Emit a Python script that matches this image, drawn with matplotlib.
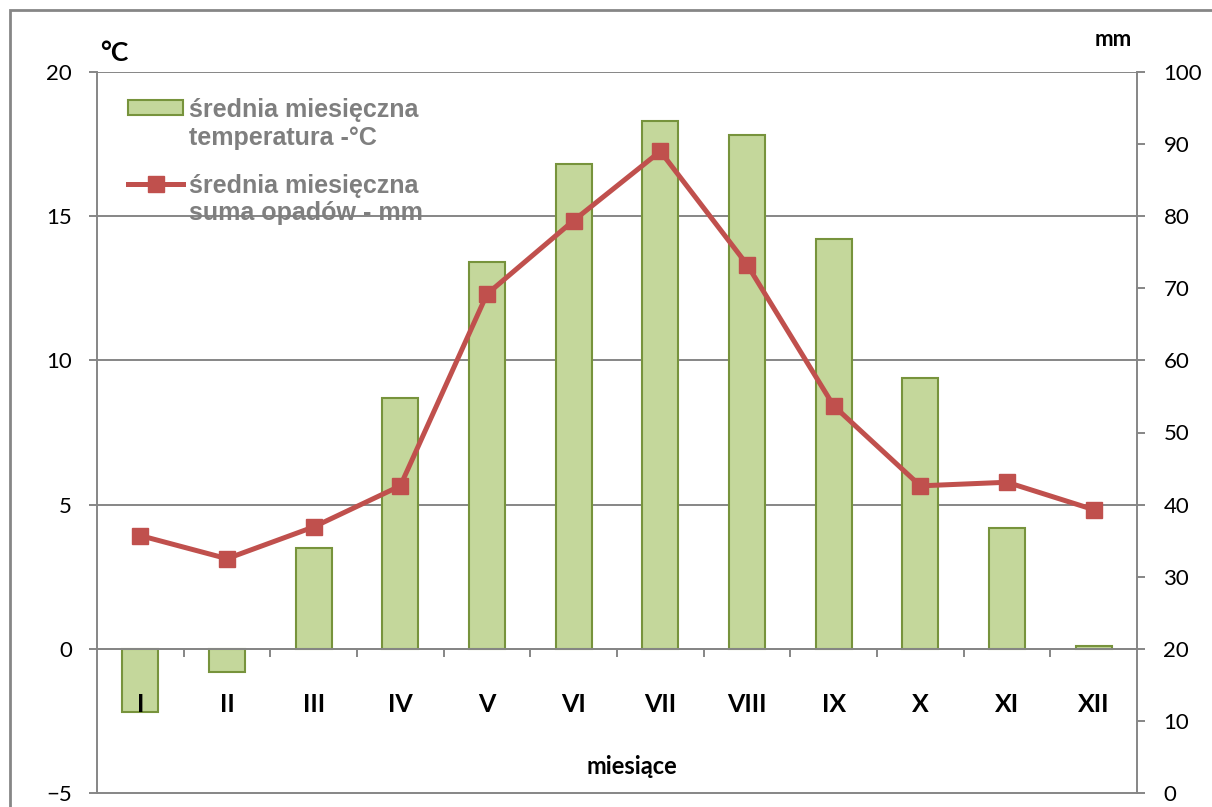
import numpy as np
import matplotlib
matplotlib.use("Agg")
from matplotlib import pyplot as plt
from matplotlib.patches import Rectangle
from matplotlib.container import BarContainer
from matplotlib.lines import Line2D
from matplotlib.legend_handler import HandlerPatch, HandlerLine2D, update_from_first_child
import matplotlib.transforms as mtransforms

months = ["I", "II", "III", "IV", "V", "VI", "VII", "VIII", "IX", "X", "XI", "XII"]
temperature = [-2.2, -0.8, 3.5, 8.7, 13.4, 16.8, 18.3, 17.8, 14.2, 9.4, 4.2, 0.1]
precipitation = [35.7, 32.5, 36.9, 42.6, 69.2, 79.4, 89.0, 73.3, 53.7, 42.6, 43.1, 39.3]
temp_ticks = [-5, 0, 5, 10, 15, 20]
prec_ticks = [0, 10, 20, 30, 40, 50, 60, 70, 80, 90, 100]

temp_label = "średnia miesięczna\ntemperatura -°C"
prec_label = "średnia miesięczna\nsuma opadów - mm"

grey = "#868686"
bar_face = "#C4D79B"
bar_edge = "#77933C"
line_color = "#C0504D"

plt.rcParams["font.family"] = ["Lato", "DejaVu Sans"]


# legend handles sit next to the first line of the two-line labels
def raised(base, frac):
    class Raised(base):
        def create_artists(self, legend, orig_handle, xdescent, ydescent,
                           width, height, fontsize, trans):
            arts = super().create_artists(legend, orig_handle, xdescent, ydescent,
                                          width, height, fontsize, trans)
            shift = mtransforms.Affine2D().translate(0, frac * fontsize)
            for a in arts:
                a.set_transform(shift + trans)
            return arts
    return Raised


fig = plt.figure(figsize=(12.12, 8.07), dpi=100)
ax = fig.add_axes([97/1212, 14/807, (1137-97)/1212, (793-72)/807])
ax2 = ax.twinx()

x = np.arange(len(months))

# gridlines behind the bars, tick labels above them
for t in temp_ticks[1:]:
    ax.axhline(t, color=grey, linewidth=1.4, zorder=0.5)

# bars - temperature (left axis)
bars = ax.bar(x, temperature, 0.415, color=bar_face, edgecolor=bar_edge, linewidth=1.5,
              label=temp_label, zorder=1)
ax.set_xlim(-0.5, 11.5)
ax.set_ylim(-5, 20)
ax.set_yticks(temp_ticks)

# category axis crosses at 0
ax.spines["bottom"].set_position(("data", 0))
ax.spines["top"].set_visible(False)
ax.spines["right"].set_visible(False)
for s in ["left", "bottom"]:
    ax.spines[s].set_color(grey)
    ax.spines[s].set_linewidth(1.4)
ax.set_xticks(x)
ax.set_xticklabels(months, fontsize=18, fontweight="bold")
ax.set_xticks(np.arange(0.5, 11, 1), minor=True)
ax.tick_params(axis="x", which="major", length=0, pad=32)
ax.tick_params(axis="x", which="minor", direction="out", length=6, width=1.4, color=grey)
ax.tick_params(axis="y", direction="out", length=6, width=1.4, color=grey,
               labelsize=16, pad=12)

# line - precipitation (right axis)
line, = ax2.plot(x, precipitation, color=line_color, linewidth=3.6, marker="s",
                 markersize=11.5, label=prec_label, zorder=3)
ax2.set_ylim(0, 100)
ax2.set_yticks(prec_ticks)
ax2.tick_params(axis="y", direction="out", length=6, width=1.4, color=grey,
                labelsize=16, pad=13)
ax2.spines["top"].set_visible(False)
ax2.spines["left"].set_visible(False)
for s in ["right", "bottom"]:
    ax2.spines[s].set_color(grey)
    ax2.spines[s].set_linewidth(1.4)

# axis titles
fig.text(100/1212, 1 - 53/807, "°C", fontsize=19, fontweight="bold", va="center", ha="left")
fig.text(1132/1212, 1 - 40/807, "mm", fontsize=16, fontweight="bold", va="center", ha="right")
fig.text(632/1212, 1 - 767/807, "miesiące", fontsize=17, fontweight="bold", va="center", ha="center")

# legend
leg = ax2.legend([bars, line], [temp_label, prec_label], loc="upper left",
                 bbox_to_anchor=(128/1212, 1 - 98/807),
                 bbox_transform=fig.transFigure, frameon=False,
                 prop={"family": "Liberation Sans", "weight": "bold", "size": 18},
                 handlelength=2.2, handleheight=0.55, handletextpad=0.25, labelspacing=0.95,
                 borderaxespad=0, borderpad=0,
                 handler_map={BarContainer: raised(HandlerPatch, 0.68)(update_func=update_from_first_child),
                              Line2D: raised(HandlerLine2D, 0.68)()})
for t in leg.get_texts():
    t.set_color("#7F7F7F")
    t.set_linespacing(1.2)

# outer frame
fig.patches.append(Rectangle((10/1212, -0.05), 1.1, 1 - 10/807 + 0.05,
                             transform=fig.transFigure, fill=False,
                             edgecolor=grey, linewidth=2))

fig.savefig("out.png", dpi=100)
